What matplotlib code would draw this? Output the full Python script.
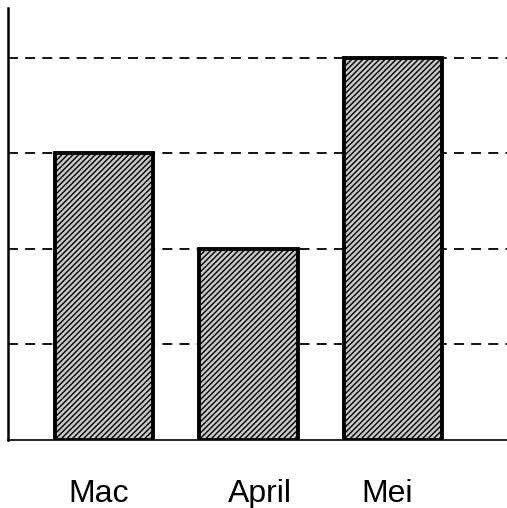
import matplotlib
matplotlib.use("Agg")
import matplotlib.pyplot as plt

categories = ["Mac", "April", "Mei"]
values = [3, 2, 4]
grid_levels = [1, 2, 3, 4]
label_offsets = [-0.04, 0.076, -0.04]

plt.rcParams['hatch.linewidth'] = 1.0
plt.rcParams['font.family'] = ['Liberation Sans', 'DejaVu Sans']

fig = plt.figure(figsize=(5.07, 5.08), dpi=100)
ax = fig.add_axes([8/507, 68/508, 499/507, 432/508])

x = list(range(len(categories)))
ax.bar(x, values, width=0.68, color='#c8c8c8', edgecolor='black',
       linewidth=2.8, hatch='//////', zorder=2)

for g in grid_levels:
    ax.axhline(g, color='black', linewidth=1.3, linestyle=(0, (5.5, 4)), zorder=1)

ax.set_xlim(-0.664, 2.789)
ax.set_ylim(0, 4.52)

ax.spines['top'].set_visible(False)
ax.spines['right'].set_visible(False)
ax.spines['left'].set_linewidth(1.8)
ax.spines['bottom'].set_linewidth(1.2)
ax.set_yticks([])
ax.set_xticks([])

for xi, lab, off in zip(x, categories, label_offsets):
    ax.text(xi + off, -0.125, lab, transform=ax.get_xaxis_transform(),
            ha='center', va='center', fontsize=23, clip_on=False)

fig.savefig("out.png", dpi=100)
